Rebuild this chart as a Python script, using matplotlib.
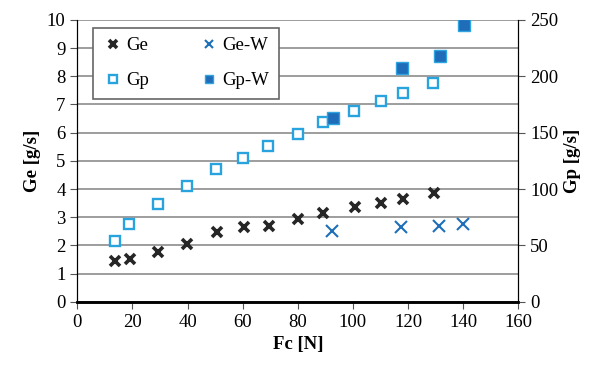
import matplotlib.pyplot as plt

plt.rcParams['font.family'] = 'Liberation Serif'
plt.rcParams['font.size'] = 13.5

# Ge (left axis)
fc_ge = [13.6, 19.1, 29.4, 39.9, 50.5, 60.6, 69.6, 80.2, 89.3, 100.6, 110.2, 118.1, 129.6]
ge = [1.43, 1.51, 1.75, 2.05, 2.47, 2.64, 2.70, 2.93, 3.15, 3.38, 3.52, 3.65, 3.85]

# Ge-W (left axis)
fc_gew = [92.3, 117.5, 131.4, 140.1]
gew = [2.52, 2.64, 2.70, 2.75]

# Gp (right axis)
fc_gp = [13.6, 18.8, 29.1, 39.7, 50.3, 60.2, 69.3, 80.0, 89.1, 100.4, 110.1, 118.0, 129.2]
gp = [54.3, 68.9, 86.6, 103.1, 117.9, 127.4, 137.7, 148.7, 159.0, 169.6, 178.2, 185.0, 193.9]

# Gp-W (right axis)
fc_gpw = [92.6, 117.8, 131.7, 140.4]
gpw = [163.4, 207.2, 218.1, 245.0]

fig, ax = plt.subplots(figsize=(6.09, 3.74), dpi=100)
fig.subplots_adjust(left=0.127, right=0.851, bottom=0.193, top=0.947)
ax2 = ax.twinx()

ax.set_xlim(0, 160)
ax.set_ylim(0, 10)
ax2.set_ylim(0, 250)
ax.set_xticks(range(0, 161, 20))
ax.set_yticks(range(0, 11))
ax2.set_yticks(range(0, 251, 50))

ax.grid(axis='y', color='#8c8c8c', linewidth=1.2)
ax.set_axisbelow(True)
for a in (ax, ax2):
    a.spines['top'].set_visible(False)
    a.spines['left'].set_color('black')
    a.spines['right'].set_color('black')
    a.spines['bottom'].set_linewidth(1.8)
    a.tick_params(direction='out', length=5, color='#555555')

l1, = ax.plot(fc_ge, ge, 'x', color='#262626', markersize=7.5, markeredgewidth=2.6,
              linestyle='none', label='Ge')
l2, = ax.plot(fc_gew, gew, 'x', color='#1f6fb8', markersize=8, markeredgewidth=1.5,
              linestyle='none', label='Ge-W')
l3, = ax2.plot(fc_gp, gp, 's', markerfacecolor='white', markeredgecolor='#29a3de',
               markeredgewidth=1.7, markersize=7, linestyle='none', label='Gp')
l4, = ax2.plot(fc_gpw, gpw, 's', markerfacecolor='#1f6cb8', markeredgecolor='#2ea5e0',
               markeredgewidth=1.0, markersize=8, linestyle='none', label='Gp-W')

ax.set_xlabel('Fc [N]', fontweight='bold')
ax.set_ylabel('Ge [g/s]', fontweight='bold')
ax2.set_ylabel('Gp [g/s]', fontweight='bold')

# column-first fill, so this gives rows Ge, Ge-W / Gp, Gp-W
leg = ax2.legend(handles=[l1, l3, l2, l4], ncol=2, loc='upper left',
                 bbox_to_anchor=(0.035, 0.972), borderaxespad=0,
                 fancybox=False, framealpha=1, markerscale=0.8,
                 edgecolor='#666666', handletextpad=0.1, columnspacing=2.6,
                 borderpad=0.5, labelspacing=0.95, handlelength=1.2)
leg.get_frame().set_linewidth(1.2)

fig.savefig('out.png', dpi=100)
